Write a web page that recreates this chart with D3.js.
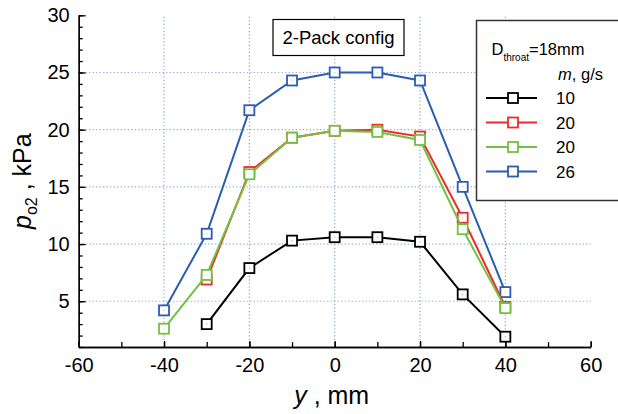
<!DOCTYPE html>
<html>
<head>
<meta charset="utf-8">
<script src="https://cdn.jsdelivr.net/npm/d3@7"></script>
<style>
  html, body { margin: 0; padding: 0; background: #fff; }
  svg { display: block; font-family: "Liberation Sans", Arial, sans-serif; }
</style>
</head>
<body>
<svg id="chart" width="618" height="414"></svg>
<script>
// Probe positions across the throat, mm
const positions = [-40, -30, -20, -10, 0, 10, 20, 30, 40];

// Oxygen partial pressure, kPa, one array per flow rate (null = not measured)
const flow10 = [null, 3.0, 7.9, 10.3, 10.6, 10.6, 10.2, 5.6, 1.9];
const flow20a = [null, 6.9, 16.3, 19.3, 19.9, 20.0, 19.4, 12.3, 4.5];
const flow20b = [2.6, 7.3, 16.1, 19.3, 19.9, 19.8, 19.1, 11.3, 4.4];
const flow26 = [4.2, 10.9, 21.7, 24.3, 25.0, 25.0, 24.3, 15.0, 5.8];

const seriesLabels = ["10", "20", "20", "26"];
const seriesColors = ["#000000", "#f0292b", "#74c043", "#2b5db1"];
const seriesValues = [flow10, flow20a, flow20b, flow26];

const xTicks = [-60, -40, -20, 0, 20, 40, 60];
const yTicks = [5, 10, 15, 20, 25, 30];

// plain hyphen for negative tick values
const fmt = d => String(d);

const svg = d3.select("#chart");
const x = d3.scaleLinear().domain([-60, 60]).range([78.7, 590.7]);
const y = d3.scaleLinear().domain([1, 30]).range([347, 15.3]);

// dotted grid
const grid = svg.append("g");
grid.selectAll("line.h").data([5, 10, 15, 20, 25]).join("line")
  .attr("x1", x(-60)).attr("x2", x(60))
  .attr("y1", d => y(d)).attr("y2", d => y(d))
  .attr("stroke", "#8fa6d6").attr("stroke-width", 1.2)
  .attr("stroke-dasharray", "1.2,2.3");
grid.selectAll("line.v").data([-40, -20, 0, 20, 40]).join("line")
  .attr("x1", d => x(d)).attr("x2", d => x(d))
  .attr("y1", y(1)).attr("y2", y(30))
  .attr("stroke", "#8fa6d6").attr("stroke-width", 1.2)
  .attr("stroke-dasharray", "1.2,2.3");

// axes with inward ticks
function styleAxis(g) {
  g.selectAll("path, line").attr("stroke", "#000").attr("stroke-width", 1.3);
  g.selectAll("text").attr("fill", "#000").attr("font-size", 20)
    .attr("font-family", "'Liberation Sans', Arial, sans-serif");
}
svg.append("g").attr("transform", `translate(${x(-60)},0)`)
  .call(d3.axisLeft(y).tickValues(d3.range(1, 31)).tickFormat("").tickSizeInner(-4).tickSizeOuter(0))
  .call(styleAxis);
svg.append("g").attr("transform", `translate(${x(-60)},0)`)
  .call(d3.axisLeft(y).tickValues(yTicks).tickFormat(fmt).tickSizeInner(-7).tickSizeOuter(0).tickPadding(9))
  .call(styleAxis);
svg.append("g").attr("transform", `translate(0,${y(1)})`)
  .call(d3.axisBottom(x).tickValues(d3.range(-60, 61, 10)).tickFormat("").tickSizeInner(-5).tickSizeOuter(0))
  .call(styleAxis);
svg.append("g").attr("transform", `translate(0,${y(1)})`)
  .call(d3.axisBottom(x).tickValues(xTicks).tickFormat(fmt).tickSizeInner(-6).tickSizeOuter(0).tickPadding(11))
  .call(styleAxis);

// axis titles
const yTitle = svg.append("text")
  .attr("transform", `translate(31,${(y(1) + y(30)) / 2}) rotate(-90)`)
  .attr("text-anchor", "middle").attr("font-size", 25).attr("fill", "#000");
yTitle.append("tspan").attr("font-style", "italic").text("p");
yTitle.append("tspan").attr("font-size", 16).attr("dy", 6).text("o2");
yTitle.append("tspan").attr("dy", -6).text(" , kPa");

const xTitle = svg.append("text")
  .attr("x", (x(-60) + x(60)) / 2 - 3).attr("y", 404)
  .attr("text-anchor", "middle").attr("font-size", 25).attr("fill", "#000");
xTitle.append("tspan").attr("font-style", "italic").text("y");
xTitle.append("tspan").text(" , mm");

// series: line + open square markers
const line = d3.line()
  .defined(d => d[1] !== null)
  .x(d => x(d[0])).y(d => y(d[1]));
const drawOrder = [0, 3, 1, 2];
const msize = 10;
drawOrder.forEach(i => {
  const pts = positions.map((p, j) => [p, seriesValues[i][j]]);
  const g = svg.append("g");
  g.append("path").datum(pts).attr("d", line)
    .attr("fill", "none").attr("stroke", seriesColors[i]).attr("stroke-width", 2);
  const valid = pts.filter(d => d[1] !== null);
  g.selectAll("rect.m").data(valid).join("rect")
    .attr("x", d => x(d[0]) - msize / 2).attr("y", d => y(d[1]) - msize / 2)
    .attr("width", msize).attr("height", msize)
    .attr("fill", "#fff").attr("stroke", seriesColors[i]).attr("stroke-width", 1.8);
  g.selectAll("rect.c").data(valid).join("rect")
    .attr("x", d => x(d[0]) - 0.5).attr("y", d => y(d[1]) - 0.5)
    .attr("width", 1).attr("height", 1)
    .attr("fill", seriesColors[i]).attr("opacity", 0.4);
});

// configuration caption
svg.append("rect").attr("x", 273).attr("y", 19.5).attr("width", 131).attr("height", 36)
  .attr("fill", "#fff").attr("stroke", "#000").attr("stroke-width", 1.2);
svg.append("text").attr("x", 338.5).attr("y", 44).attr("text-anchor", "middle")
  .attr("font-size", 18.5).attr("fill", "#000").text("2-Pack config");

// legend
const lg = svg.append("g");
lg.append("rect").attr("x", 476.5).attr("y", 20.5).attr("width", 150).attr("height", 180)
  .attr("fill", "#fff").attr("stroke", "#333").attr("stroke-width", 1.5);
const head = lg.append("text").attr("x", 491.5).attr("y", 55).attr("font-size", 16.5).attr("fill", "#000");
head.append("tspan").text("D");
head.append("tspan").attr("font-size", 10).attr("dy", 6).text("throat");
head.append("tspan").attr("dy", -6).text("=18mm");
const unit = lg.append("text").attr("x", 603).attr("y", 80).attr("text-anchor", "end")
  .attr("font-size", 16.5).attr("fill", "#000");
unit.append("tspan").attr("font-style", "italic").text("m");
unit.append("tspan").text(", g/s");
seriesLabels.forEach((lab, i) => {
  const cy = 98 + i * 24.5;
  lg.append("line").attr("x1", 486).attr("x2", 537).attr("y1", cy).attr("y2", cy)
    .attr("stroke", seriesColors[i]).attr("stroke-width", 2);
  lg.append("rect").attr("x", 513 - msize / 2).attr("y", cy - msize / 2)
    .attr("width", msize).attr("height", msize)
    .attr("fill", "#fff").attr("stroke", seriesColors[i]).attr("stroke-width", 1.8);
  lg.append("text").attr("x", 556).attr("y", cy + 6).attr("font-size", 17)
    .attr("fill", "#000").text(lab);
});
</script>
</body>
</html>
